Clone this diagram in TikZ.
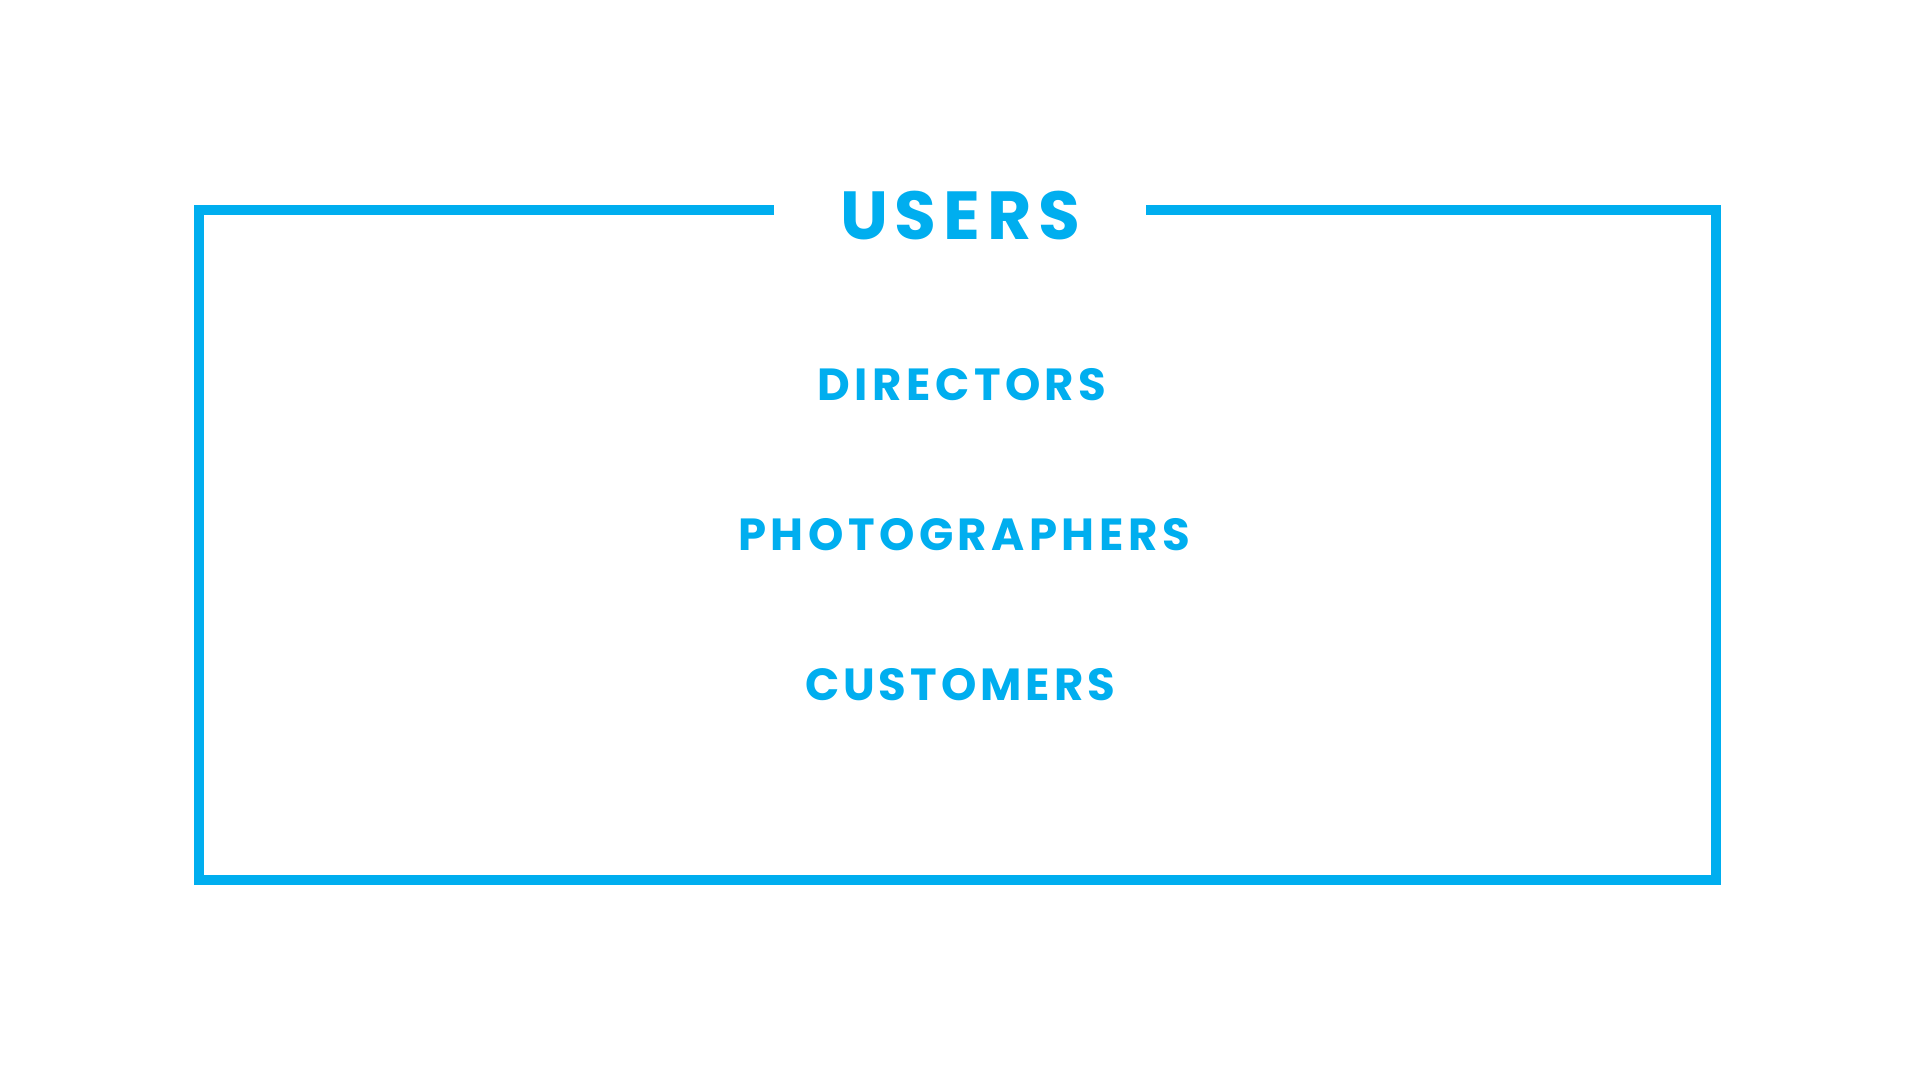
\documentclass[tikz,border=0pt]{standalone}
\usepackage{fontspec}
\setmainfont{Poppins}
\newfontfamily\itemfont[LetterSpace=10.0]{Poppins}
\newfontfamily\itemfontnarrow[LetterSpace=8.8]{Poppins}
\newfontfamily\titlefont[LetterSpace=10.0]{Poppins}
\definecolor{usercyan}{HTML}{00AEEF}
\tikzset{
  frameline/.style={draw=usercyan, line width=10pt, line join=miter},
  titletext/.style={text=usercyan, inner sep=0pt, anchor=base, font=\titlefont\bfseries\fontsize{68}{68}\selectfont},
  itemtext/.style={text=usercyan, inner sep=0pt, anchor=base, font=\itemfont\bfseries\fontsize{45}{45}\selectfont},
  itemtextnarrow/.style={itemtext, font=\itemfontnarrow\bfseries\fontsize{45}{45}\selectfont}
}
\begin{document}
\begin{tikzpicture}[x=1pt,y=1pt]
\useasboundingbox (0,0) rectangle (1920,1080);
\fill[white] (0,0) rectangle (1920,1080);
\coordinate (gl) at (774,870);
\coordinate (gr) at (1146,870);
\coordinate (tl) at (199,870);
\coordinate (bl) at (199,200);
\coordinate (br) at (1716,200);
\coordinate (tr) at (1716,870);
\draw[frameline] (gl) -- (tl) -- (bl) -- (br) -- (tr) -- (gr);
\node[titletext] (users) at (960,840) {USERS};
\node[itemtext] (directors) at (962,679) {DIRECTORS};
\node[itemtext] (photographers) at (964,529) {PHOTOGRAPHERS};
\node[itemtextnarrow] (customers) at (960,379) {CUSTOMERS};
\end{tikzpicture}
\end{document}
